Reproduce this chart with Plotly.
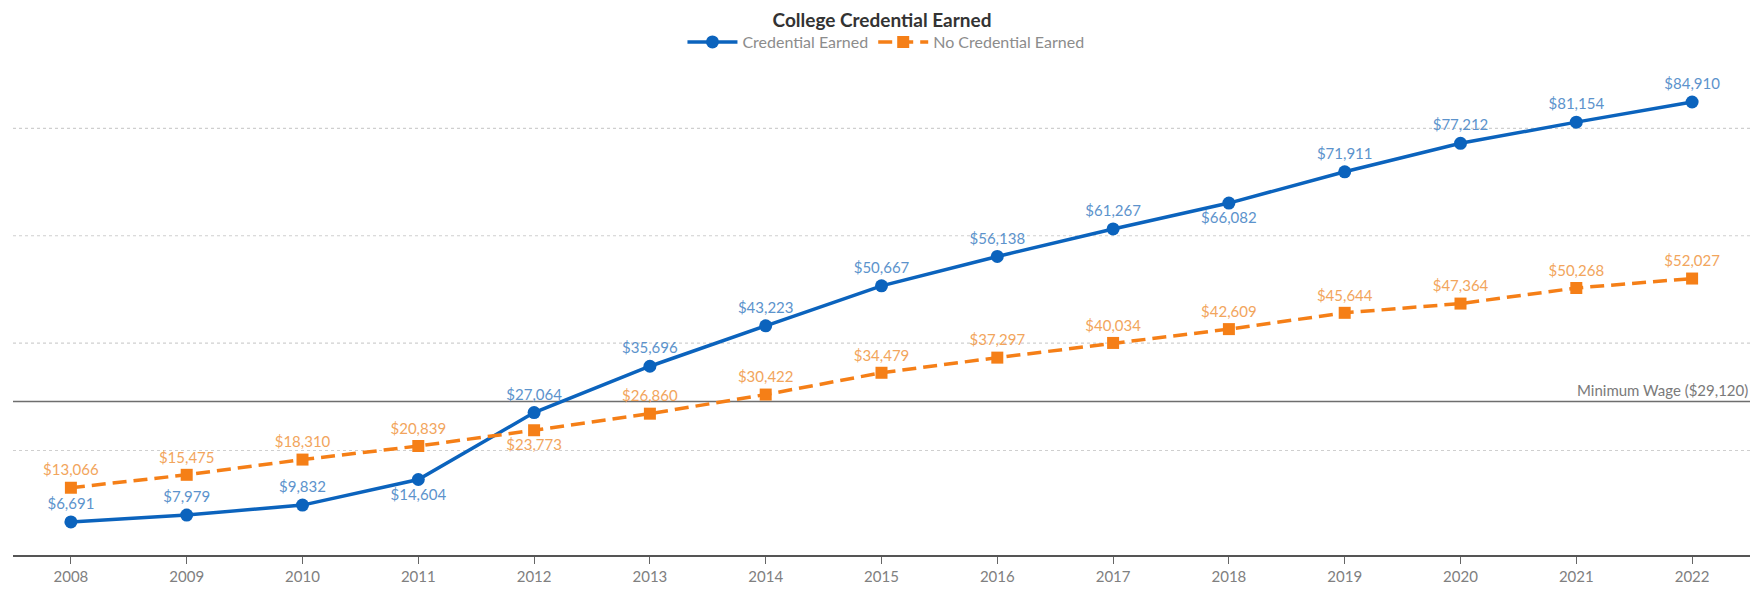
import plotly.graph_objects as go

years = list(range(2008, 2023))
credential = [6691, 7979, 9832, 14604, 27064, 35696, 43223, 50667, 56138, 61267, 66082, 71911, 77212, 81154, 84910]
no_credential = [13066, 15475, 18310, 20839, 23773, 26860, 30422, 34479, 37297, 40034, 42609, 45644, 47364, 50268, 52027]
cred_pos = ["top center"] * 15
cred_pos[3] = "bottom center"
cred_pos[10] = "bottom center"
nocred_pos = ["top center"] * 15
nocred_pos[4] = "bottom center"
min_wage = 29120
grid_vals = [20000, 40000, 60000, 80000]

FONT = "Lato"
BLUE = "#0B63BD"
BLUE_TXT = "#5C93CC"
ORANGE = "#F57F17"
ORANGE_TXT = "#F2A55C"

fig = go.Figure()
fig.add_trace(go.Scatter(
    x=years, y=credential, name="Credential Earned",
    mode="lines+markers+text",
    line=dict(color=BLUE, width=3.5),
    marker=dict(symbol="circle", size=13, color=BLUE),
    text=[f"${v:,}" for v in credential], textposition=cred_pos,
    textfont=dict(color=BLUE_TXT, size=15, family=FONT),
    cliponaxis=False,
))
fig.add_trace(go.Scatter(
    x=years, y=no_credential, name="No Credential Earned",
    mode="lines+markers+text",
    line=dict(color=ORANGE, width=3.5, dash="14px,7px"),
    marker=dict(symbol="square", size=12, color=ORANGE),
    text=[f"${v:,}" for v in no_credential], textposition=nocred_pos,
    textfont=dict(color=ORANGE_TXT, size=15, family=FONT),
    cliponaxis=False,
))

for g in grid_vals:
    fig.add_shape(type="line", xref="paper", x0=0, x1=1, y0=g, y1=g,
                  line=dict(color="#CFCFCF", width=1.2, dash="dot"), layer="below")

fig.add_shape(type="line", xref="paper", x0=0, x1=1, y0=min_wage, y1=min_wage,
              line=dict(color="#6E6E6E", width=1.5), layer="below")
fig.add_annotation(xref="paper", x=1, y=min_wage, text=f"Minimum Wage (${min_wage:,})",
                   xanchor="right", yanchor="bottom", showarrow=False,
                   font=dict(color="#7A7A7A", size=15, family=FONT), yshift=1)

fig.update_layout(
    width=1753, height=599,
    margin=dict(l=13, r=3, t=69, b=44),
    paper_bgcolor="white", plot_bgcolor="white",
    font=dict(family=FONT, color="#777777"),
    title=dict(text="<b>College Credential Earned</b>", x=882 / 1753, xanchor="center",
               y=1 - 20 / 599, yanchor="middle", font=dict(size=19, color="#333333", family=FONT)),
    legend=dict(orientation="h", x=881 / 1753, xanchor="center", y=1 + 27 / 486, yanchor="middle",
                font=dict(size=16, color="#8C8C8C", family=FONT), itemwidth=50,
                bgcolor="rgba(0,0,0,0)"),
    showlegend=True,
)
fig.update_xaxes(range=[2007.5, 2022.5], tickvals=years, ticktext=[str(y) for y in years],
                 showgrid=False, zeroline=False, showline=True, linecolor="#555555", linewidth=2,
                 ticks="outside", ticklen=7, tickcolor="#666666", tickwidth=1,
                 tickfont=dict(size=15, color="#808080", family=FONT))
fig.update_yaxes(range=[540, 91052], showgrid=False, zeroline=False, showticklabels=False,
                 showline=False)

fig.write_html("out.html", config={"displayModeBar": False},
               post_script="document.body.style.margin='0';")
